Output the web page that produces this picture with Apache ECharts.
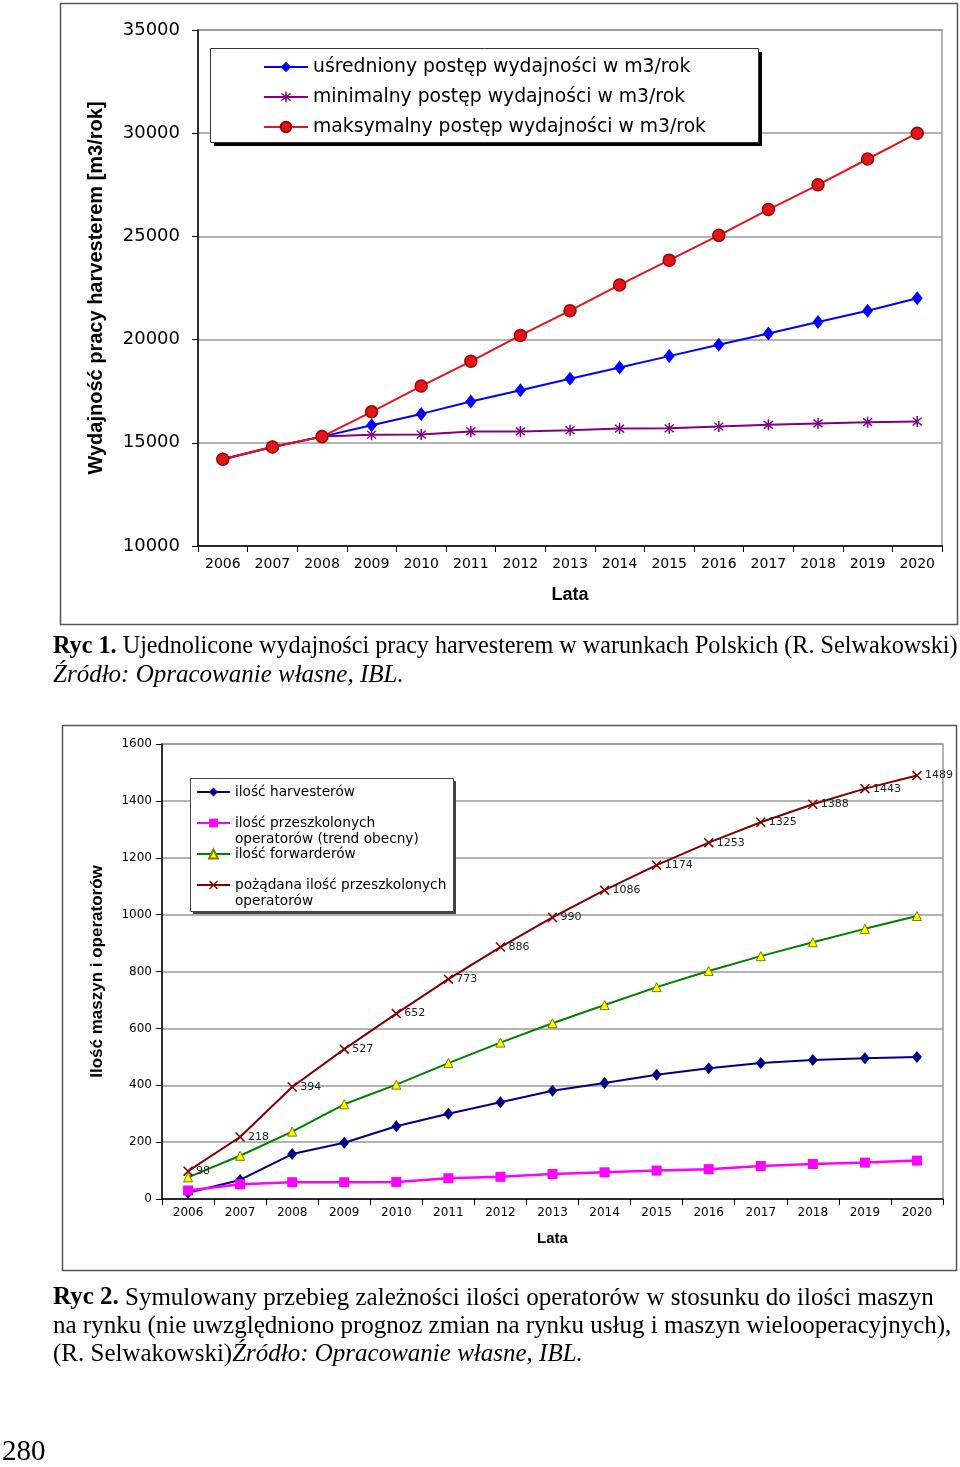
<!DOCTYPE html>
<html><head><meta charset="utf-8">
<script src="https://cdn.jsdelivr.net/npm/echarts@6/dist/echarts.min.js"></script>
<style>html,body{margin:0;padding:0;background:#fff}#c{width:960px;height:1467px}</style>
</head><body><div id="c"></div>
<script>
// ---------- DATA ----------
const years = ['2006','2007','2008','2009','2010','2011','2012','2013','2014','2015','2016','2017','2018','2019','2020'];

// Chart 1 (m3/rok)
const names1 = ['uśredniony postęp wydajności w m3/rok', 'minimalny postęp wydajności w m3/rok', 'maksymalny postęp wydajności w m3/rok'];
const avgProgress = [14200, 14800, 15300, 15850, 16400, 17000, 17550, 18100, 18650, 19200, 19750, 20300, 20850, 21400, 22000];
const minProgress = [14200, 14800, 15300, 15390, 15400, 15550, 15550, 15610, 15690, 15700, 15790, 15870, 15940, 16000, 16030];
const maxProgress = [14200, 14800, 15300, 16500, 17750, 18950, 20200, 21400, 22650, 23850, 25050, 26300, 27500, 28750, 30000];

// Chart 2 (counts)
const names2 = ['ilość harvesterów', 'ilość przeszkolonych operatorów (trend obecny)', 'ilość forwarderów', 'pożądana ilość przeszkolonych operatorów'];
const legendLines2 = ['\nilość harvesterów\n', '\nilość przeszkolonych\noperatorów (trend obecny)', '\nilość forwarderów\n', '\npożądana ilość przeszkolonych\noperatorów'];
const harvesters = [22, 67, 158, 198, 256, 300, 340, 381, 408, 437, 460, 478, 489, 495, 499];
const trainedOperators = [30, 52, 59, 59, 60, 73, 78, 88, 94, 100, 105, 116, 123, 128, 135];
const forwarders = [76, 152, 237, 333, 402, 478, 550, 618, 682, 745, 802, 854, 903, 950, 995];
const desiredOperators = [98, 218, 394, 527, 652, 773, 886, 990, 1086, 1174, 1253, 1325, 1388, 1443, 1489];

const yTitle1 = 'Wydajność pracy harvesterem [m3/rok]';
const yTitle2 = 'Ilość maszyn i operatorów';
const xTitle = 'Lata';

// ---------- STYLE ----------
const SANS = 'DejaVu Sans';
const ARIAL = 'Liberation Sans';
const SERIF = 'Liberation Serif';
const asterisk = 'path://M-1.2,-10L1.2,-10L1.2,10L-1.2,10Z M-6.22,-7.92L7.92,6.22L6.22,7.92L-7.92,-6.22Z M7.92,-6.22L-6.22,7.92L-7.92,6.22L6.22,-7.92Z';
const cross = 'path://M-6.22,-7.92L7.92,6.22L6.22,7.92L-7.92,-6.22Z M7.92,-6.22L-6.22,7.92L-7.92,6.22L6.22,-7.92Z';

function xAxisCfg(gridIndex, fs, margin, nameSize, nameGap) {
  return {
    type: 'category', gridIndex, data: years, boundaryGap: true,
    axisLine: {show: true, lineStyle: {color: '#000', width: 1.5}},
    axisTick: {show: true, length: 6, interval: 0, lineStyle: {color: '#000', width: 1}},
    axisLabel: {interval: 0, fontFamily: SANS, fontSize: fs, color: '#000', margin},
    splitLine: {show: false},
    name: xTitle, nameLocation: 'middle', nameGap,
    nameTextStyle: {fontFamily: ARIAL, fontWeight: 'bold', fontSize: nameSize, color: '#000'}
  };
}
function yAxisCfg(gridIndex, min, max, interval, fs, margin, name, nameSize, nameGap) {
  return {
    type: 'value', gridIndex, min, max, interval,
    axisLine: {show: true, lineStyle: {color: '#000', width: 1.5}},
    axisTick: {show: true, length: 6, lineStyle: {color: '#000', width: 1}},
    axisLabel: {fontFamily: SANS, fontSize: fs, color: '#000', margin, formatter: function (v) { return String(v); }},
    splitLine: {show: true, lineStyle: {color: '#9a9a9a', width: 1.5}},
    name, nameLocation: 'middle', nameRotate: 90, nameGap,
    nameTextStyle: {fontFamily: ARIAL, fontWeight: 'bold', fontSize: nameSize, color: '#000'}
  };
}

function capRich(size) {
  return {
    b: {fontFamily: SERIF, fontSize: size, fontWeight: 'bold', fill: '#000'},
    n: {fontFamily: SERIF, fontSize: size, fill: '#000'},
    i: {fontFamily: SERIF, fontSize: size, fontStyle: 'italic', fill: '#000'}
  };
}
function capText(x, y, text, size) {
  return {type: 'text', x, y, z: 10, style: {text, rich: capRich(size), fontFamily: SERIF, fontSize: size, fill: '#000', align: 'left', verticalAlign: 'middle', textAlign: 'left', textVerticalAlign: 'middle'}};
}

const chart = echarts.init(document.getElementById('c'), null, {renderer: 'canvas'});
chart.setOption({
  animation: false,
  backgroundColor: '#fff',
  grid: [
    {left: 198, top: 30, width: 744, height: 516, show: true, borderColor: '#9a9a9a', borderWidth: 1.5, backgroundColor: '#fff', outerBoundsMode: 'none', containLabel: false},
    {left: 162, top: 744, width: 781, height: 455, show: true, borderColor: '#9a9a9a', borderWidth: 1.5, backgroundColor: '#fff', outerBoundsMode: 'none', containLabel: false}
  ],
  xAxis: [xAxisCfg(0, 14, 11, 18, 40), xAxisCfg(1, 12, 8, 15, 32)],
  yAxis: [
    yAxisCfg(0, 10000, 35000, 5000, 18, 18, yTitle1, 20, 92),
    yAxisCfg(1, 0, 1600, 200, 12, 10, yTitle2, 17, 56)
  ],
  legend: [
    {
      data: names1, orient: 'vertical', left: 263, top: 57, padding: 0,
      itemWidth: 44, itemHeight: 13, itemGap: 10, z: 5,
      textStyle: {fontFamily: SANS, fontSize: 18.8, color: '#000', lineHeight: 20},
      selectedMode: false
    },
    {
      data: names2, orient: 'vertical', left: 196, top: 768, padding: 0,
      itemWidth: 33, itemHeight: 11, itemGap: -17, z: 5,
      formatter: function (n) { return legendLines2[names2.indexOf(n)]; },
      textStyle: {fontFamily: SANS, fontSize: 13.7, color: '#000', lineHeight: 16},
      selectedMode: false
    }
  ],
  series: [
    {name: names1[0], type: 'line', xAxisIndex: 0, yAxisIndex: 0, data: avgProgress,
      symbol: 'diamond', symbolSize: [11, 14], showAllSymbol: true,
      lineStyle: {color: '#0000FF', width: 2}, itemStyle: {color: '#0000FF'}},
    {name: names1[1], type: 'line', xAxisIndex: 0, yAxisIndex: 0, data: minProgress,
      symbol: asterisk, symbolSize: [10, 11], showAllSymbol: true,
      lineStyle: {color: '#800080', width: 2}, itemStyle: {color: '#800080'}},
    {name: names1[2], type: 'line', xAxisIndex: 0, yAxisIndex: 0, data: maxProgress,
      symbol: 'circle', symbolSize: 12, showAllSymbol: true,
      lineStyle: {color: '#E8141B', width: 2}, itemStyle: {color: '#E01818', borderColor: '#A00000', borderWidth: 1.5}},

    {name: names2[0], type: 'line', xAxisIndex: 1, yAxisIndex: 1, data: harvesters,
      symbol: 'diamond', symbolSize: [10, 12], showAllSymbol: true,
      lineStyle: {color: '#000080', width: 2}, itemStyle: {color: '#000080'}},
    {name: names2[1], type: 'line', xAxisIndex: 1, yAxisIndex: 1, data: trainedOperators,
      symbol: 'rect', symbolSize: 10, showAllSymbol: true,
      lineStyle: {color: '#FF00FF', width: 2.5}, itemStyle: {color: '#FF00FF'}},
    {name: names2[2], type: 'line', xAxisIndex: 1, yAxisIndex: 1, data: forwarders,
      symbol: 'triangle', symbolSize: 9, showAllSymbol: true,
      lineStyle: {color: '#008000', width: 2}, itemStyle: {color: '#FFFF00', borderColor: '#7a7a00', borderWidth: 1}},
    {name: names2[3], type: 'line', xAxisIndex: 1, yAxisIndex: 1, data: desiredOperators,
      symbol: cross, symbolSize: 10, showAllSymbol: true,
      lineStyle: {color: '#800000', width: 2}, itemStyle: {color: '#800000'},
      label: {show: true, position: 'right', distance: 3, fontFamily: SANS, fontSize: 11, color: '#222'}}
  ],
  graphic: [
    // outer frames
    {type: 'rect', z: 1, shape: {x: 60.5, y: 3.5, width: 897, height: 621}, style: {fill: null, stroke: '#555', lineWidth: 1.5}},
    {type: 'rect', z: 1, shape: {x: 62.5, y: 725.5, width: 894, height: 545}, style: {fill: null, stroke: '#555', lineWidth: 1.5}},
    // legend boxes with shadows
    {type: 'rect', z: 3, shape: {x: 214, y: 52, width: 548, height: 94}, style: {fill: '#000'}},
    {type: 'rect', z: 3, shape: {x: 210.5, y: 48.5, width: 548, height: 94}, style: {fill: '#fff', stroke: '#333', lineWidth: 1}},
    {type: 'rect', z: 3, shape: {x: 193, y: 781, width: 263, height: 133}, style: {fill: '#444'}},
    {type: 'rect', z: 3, shape: {x: 190.5, y: 778.5, width: 263, height: 133}, style: {fill: '#fff', stroke: '#444', lineWidth: 1}},
    // captions
    capText(53, 647, '{b|Ryc 1.}{n| Ujednolicone wydajności pracy harvesterem w warunkach Polskich (R. Selwakowski)}', 24.2),
    capText(53, 675, '{i|Źródło: Opracowanie własne, IBL.}', 25),
    capText(53, 1298, '{b|Ryc 2.}{n| Symulowany przebieg zależności ilości operatorów w stosunku do ilości maszyn}', 25),
    capText(53, 1326, '{n|na rynku (nie uwzględniono prognoz zmian na rynku usług i maszyn wielooperacyjnych),}', 25),
    capText(53, 1354, '{n|(R. Selwakowski)}{i|Źródło: Opracowanie własne, IBL.}', 25),
    {type: 'text', x: 2, y: 1452, z: 10, style: {text: '280', fontFamily: SERIF, fontSize: 29, fill: '#000', align: 'left', verticalAlign: 'middle', textAlign: 'left', textVerticalAlign: 'middle'}}
  ]
});
</script>
</body></html>
